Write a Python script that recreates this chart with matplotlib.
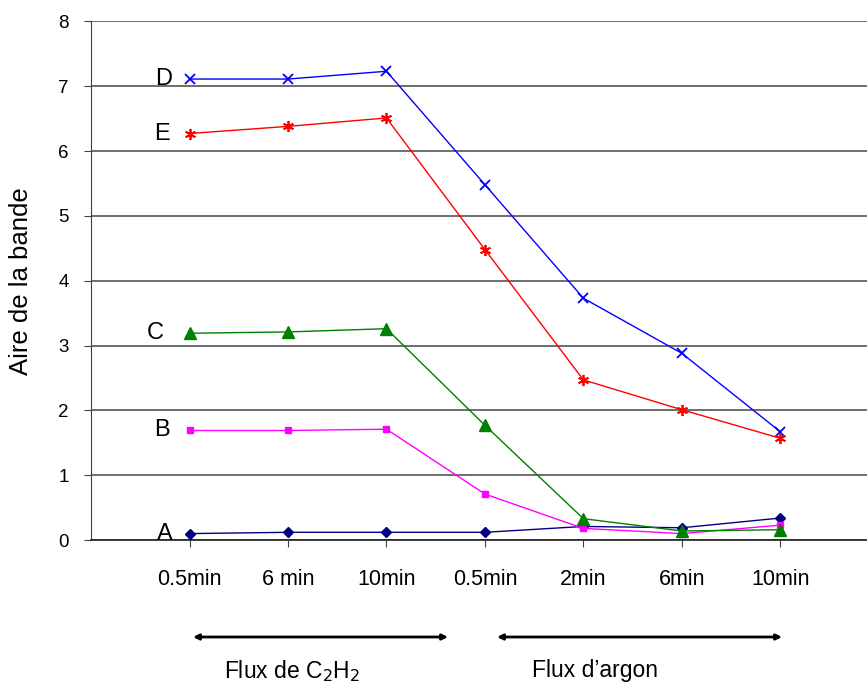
import matplotlib.pyplot as plt
import numpy as np

plt.rcParams['font.family'] = ['Liberation Sans', 'DejaVu Sans']

categories = ['0.5min', '6 min', '10min', '0.5min', '2min', '6min', '10min']
series_names = ['A', 'B', 'C', 'D', 'E']
A = [0.10, 0.12, 0.12, 0.12, 0.21, 0.19, 0.34]
B = [1.69, 1.69, 1.71, 0.71, 0.18, 0.10, 0.23]
C = [3.19, 3.21, 3.26, 1.77, 0.33, 0.14, 0.16]
D = [7.11, 7.11, 7.23, 5.48, 3.73, 2.88, 1.67]
E = [6.27, 6.38, 6.51, 4.48, 2.47, 2.01, 1.57]
group_labels = ['Flux de C$_2$H$_2$', 'Flux d\u2019argon']

fig = plt.figure(figsize=(8.67, 6.88), dpi=100)
ax = fig.add_axes([0.105, 0.215, 0.895, 0.754])

x = np.arange(1, len(categories) + 1)

styles = {
    'A': dict(color='#000080', marker='D', ms=5),
    'B': dict(color='#ff00ff', marker='s', ms=5),
    'C': dict(color='#008000', marker='^', ms=8),
    'D': dict(color='#0000ff', marker='x', ms=7, mew=1.3),
    'E': dict(color='#ff0000', marker=(6, 2, 0), ms=8, mew=1.3),
}
data = {'A': A, 'B': B, 'C': C, 'D': D, 'E': E}
label_dx = {'A': 0.17, 'B': 0.2, 'C': 0.26, 'D': 0.18, 'E': 0.2}

for name in series_names:
    ax.plot(x, data[name], lw=1, zorder=3, **styles[name])
    # series label next to first point
    ax.text(x[0] - label_dx[name], data[name][0], name,
            ha='right', va='center', fontsize=17)

ax.set_xlim(0, 7.88)
ax.set_ylim(0, 8)
ax.set_yticks(range(0, 9))
ax.set_xticks(x)
ax.set_xticklabels(categories, fontsize=15.5)
ax.tick_params(axis='x', direction='out', length=5, pad=16, color='#404040')
ax.tick_params(axis='y', direction='out', length=5, labelsize=13.5, pad=11, color='#404040')
ax.grid(axis='y', color='#555555', lw=1.2)
ax.set_axisbelow(True)
for s in ['top', 'right']:
    ax.spines[s].set_visible(False)
ax.spines['left'].set_color('#404040')
ax.spines['bottom'].set_color('#202020')
ax.spines['bottom'].set_linewidth(1.2)
ax.set_ylabel('Aire de la bande', fontsize=18.5, labelpad=18)

# group arrows below the axis (figure coordinates)
def fx(px):
    return px / 867

def fy(py):
    return 1 - py / 688

arrows = [(193, 448), (497, 782)]
text_x = [292, 595]
for (x0, x1), tx, lab in zip(arrows, text_x, group_labels):
    ax.annotate('', xy=(fx(x0), fy(637)), xytext=(fx(x1), fy(637)),
                xycoords='figure fraction', textcoords='figure fraction',
                arrowprops=dict(arrowstyle='<|-|>', color='black', lw=2,
                                mutation_scale=8, shrinkA=0, shrinkB=0))
    fig.text(fx(tx), fy(671), lab, ha='center', va='center', fontsize=16.5)

fig.savefig('out.png', dpi=100)
